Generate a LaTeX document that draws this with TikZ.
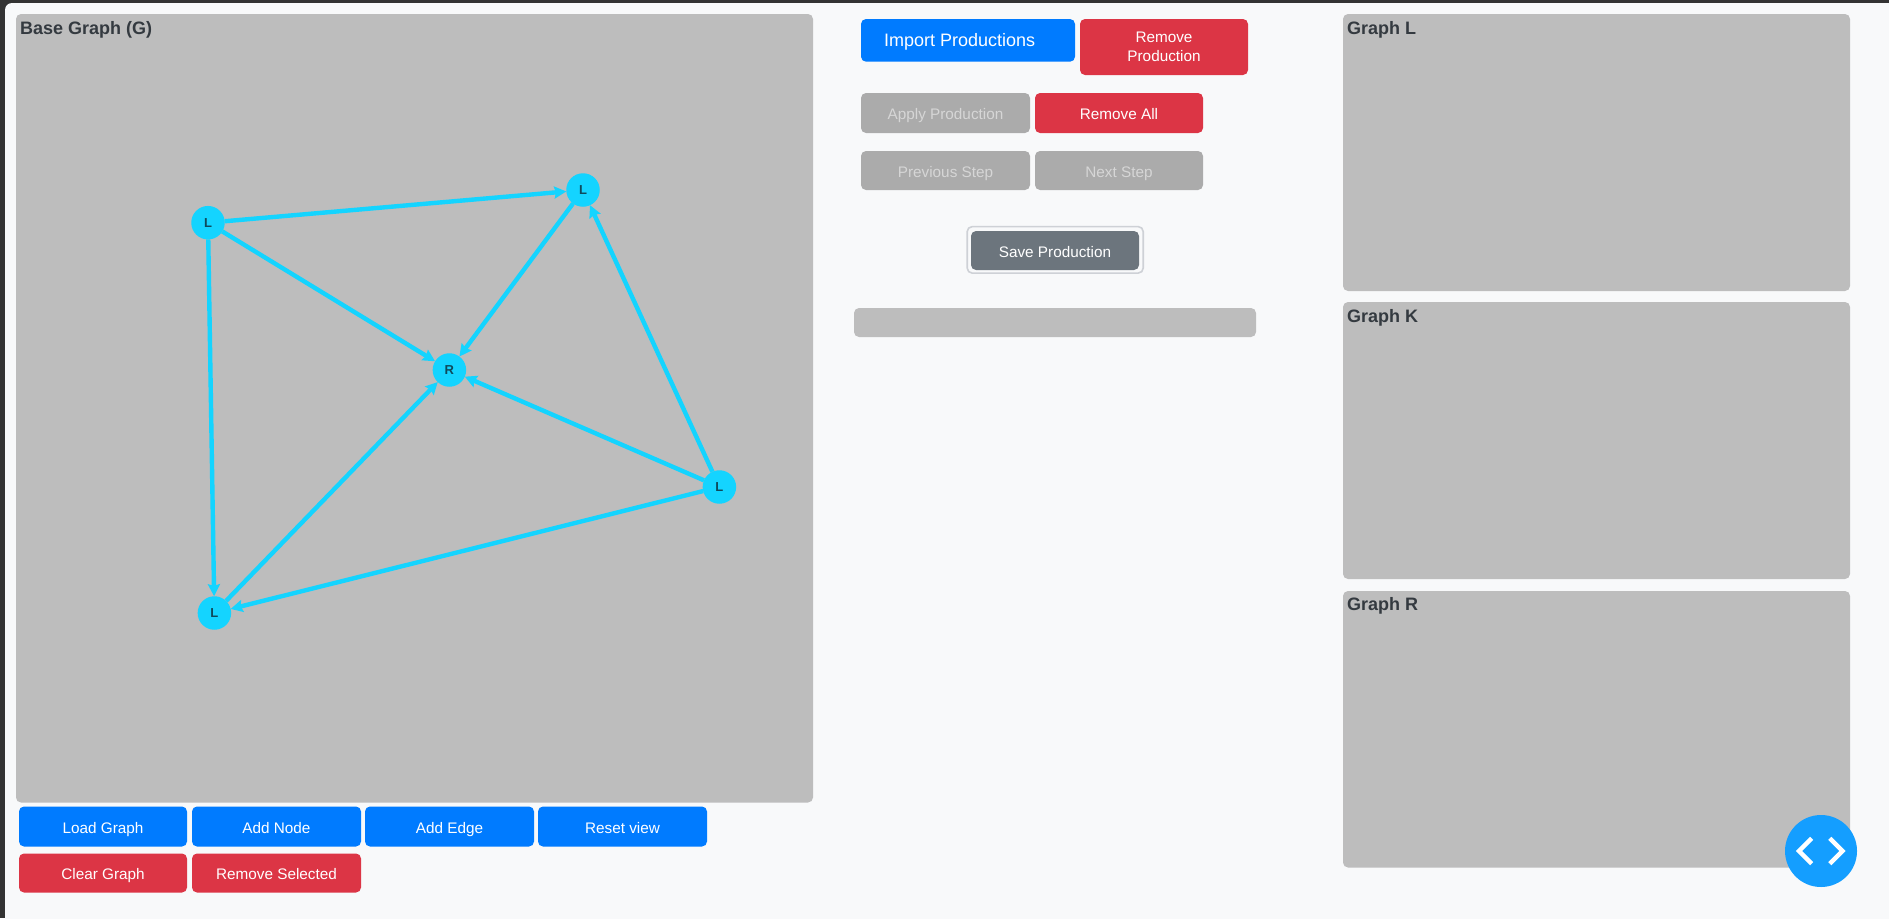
\documentclass[tikz,border=0pt]{standalone}
\usepackage{fontspec}
\setmainfont{Liberation Sans}
\usetikzlibrary{arrows.meta}
\definecolor{pagebg}{HTML}{F8F9FA}
\definecolor{chrome}{HTML}{333333}
\definecolor{panelgray}{HTML}{BDBDBD}
\definecolor{btnblue}{HTML}{007BFF}
\definecolor{btnred}{HTML}{DC3545}
\definecolor{btnoff}{HTML}{ABABAB}
\definecolor{txtoff}{HTML}{D6D6D6}
\definecolor{btnsave}{HTML}{6C757D}
\definecolor{ringgray}{HTML}{CED1D6}
\definecolor{graphcyan}{HTML}{14D4FF}
\definecolor{fabblue}{HTML}{149EFF}
\definecolor{titleink}{HTML}{343A40}
\definecolor{nodeink}{HTML}{0F4A5C}
\tikzset{
  uibox/.style 2 args={anchor=north west,inner sep=0pt,outer sep=0pt,rounded corners=5pt,
    minimum width=#1 pt,minimum height=#2 pt},
  panel/.style 2 args={uibox={#1}{#2},fill=panelgray},
  btext/.style={text=white,font=\fontsize{15.3}{18.5}\selectfont,align=center,text height=13pt,text depth=0pt},
  blue btn/.style 2 args={uibox={#1}{#2},fill=btnblue,btext},
  red btn/.style 2 args={uibox={#1}{#2},fill=btnred,btext},
  off btn/.style 2 args={uibox={#1}{#2},fill=btnoff,btext,text=txtoff},
  title/.style={anchor=west,inner sep=0pt,text=titleink,font=\fontsize{18}{20}\selectfont\bfseries,text height=13pt,text depth=0pt},
  gnode/.style={circle,fill=graphcyan,minimum size=33.5pt,inner sep=0pt,outer sep=0pt,
    text=nodeink,font=\fontsize{13}{15}\selectfont\bfseries,text height=9.4pt,text depth=0pt},
  gedge/.style={draw=graphcyan,line width=4.4pt,-{Stealth[length=12pt,width=12pt,inset=1.5pt]}},
}
\begin{document}
\begin{tikzpicture}[x=1pt,y=-1pt]
\useasboundingbox (0,0) rectangle (1889,918);
% window chrome and page
\fill[chrome] (0,0) rectangle (1889,918);
\fill[pagebg,rounded corners=7pt] (5,3) rectangle (1920,950);

% panels
\node[panel={797}{788.5}] (base) at (16,14) {};
\node[panel={507}{277}] (graphL) at (1343,14) {};
\node[panel={507}{277}] (graphK) at (1343,302) {};
\node[panel={507}{276.5}] (graphR) at (1343,591) {};
\node[panel={402}{29}] (statusbar) at (854,308) {};

% titles
\node[title] (tbase) at (20,28) {Base Graph (G)};
\node[title] (tL) at (1347,28) {Graph L};
\node[title] (tK) at (1347,316) {Graph K};
\node[title] (tR) at (1347,604) {Graph R};

% graph
\node[gnode] (n1) at (208,222.7) {L};
\node[gnode] (n2) at (583,190) {L};
\node[gnode] (n3) at (449.4,370) {R};
\node[gnode] (n4) at (719.4,487) {L};
\node[gnode] (n5) at (214.4,613) {L};
\draw[gedge] (n1) -- (n2);
\draw[gedge] (n1) -- (n3);
\draw[gedge] (n1) -- (n5);
\draw[gedge] (n2) -- (n3);
\draw[gedge] (n4) -- (n2);
\draw[gedge] (n4) -- (n3);
\draw[gedge] (n4) -- (n5);
\draw[gedge] (n5) -- (n3);

% left buttons
\node[blue btn={168}{40}] (load) at (19,806.5) {Load Graph};
\node[blue btn={169}{40}] (addn) at (192,806.5) {Add Node};
\node[blue btn={169}{40}] (adde) at (365,806.5) {Add Edge};
\node[blue btn={169}{40}] (reset) at (538,806.5) {Reset view};
\node[red btn={168}{39}] (clear) at (19,853.5) {Clear Graph};
\node[red btn={169}{39}] (remsel) at (192,853.5) {Remove Selected};

% middle buttons
\node[blue btn={214}{42.7}] (importbtn) at (861,19) {};
\node[anchor=center,inner sep=0pt,text=white,font=\fontsize{18}{20}\selectfont,text height=13pt,text depth=0pt] (importtxt) at (959.6,39.7) {Import Productions};
\node[red btn={168}{56},text height=,text depth=] (remprod) at (1080,19) {Remove\\Production};
\node[off btn={169}{40}] (apply) at (861,93) {Apply Production};
\node[red btn={168}{40}] (remall) at (1035,93) {Remove All};
\node[off btn={169}{39}] (prev) at (861,151) {Previous Step};
\node[off btn={168}{39}] (next) at (1035,151) {Next Step};

% save button with focus ring
\node[uibox={176}{46.5},draw=ringgray,line width=1.6pt,fill=pagebg] (savering) at (967.2,226.6) {};
\node[uibox={168}{39},fill=btnsave,btext] (save) at (971,231) {Save Production};

% floating button
\node[circle,fill=fabblue,minimum size=72pt,inner sep=0pt] (fab) at (1821,851) {};
\draw[white,line width=4.4pt,miter limit=10] (1811.6,838.3) -- (1799,851) -- (1811.6,863.7);
\draw[white,line width=4.4pt,miter limit=10] (1829.7,838.3) -- (1842.4,851) -- (1829.7,863.7);
\end{tikzpicture}
\end{document}
